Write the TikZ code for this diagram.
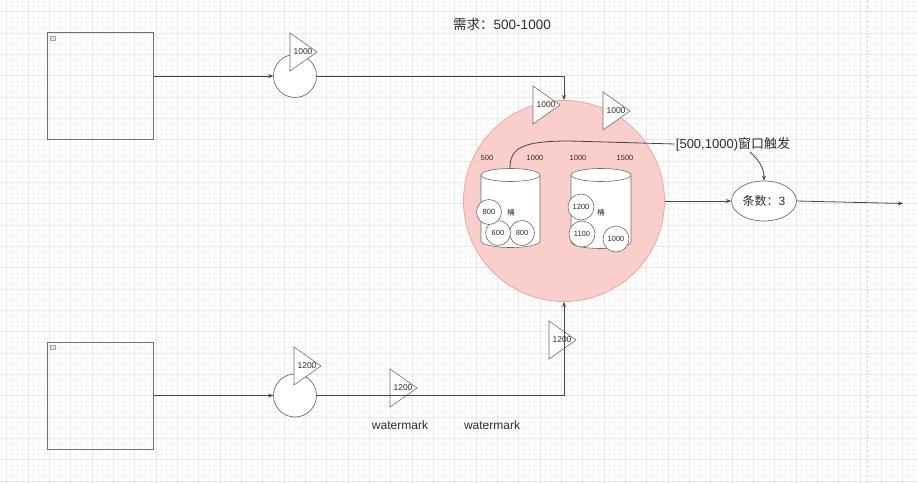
\documentclass[tikz,border=0pt]{standalone}
\usepackage{fontspec}
\setmainfont{Liberation Sans}
\newfontfamily\cjk{Noto Sans CJK SC}
\usetikzlibrary{shapes.geometric,arrows.meta}
\definecolor{pinkfill}{RGB}{249,206,203}
\definecolor{pinkdraw}{RGB}{236,168,163}
\definecolor{lncol}{RGB}{70,70,70}
\definecolor{shcol}{RGB}{110,110,110}
\definecolor{txcol}{RGB}{45,45,45}
\definecolor{gridmaj}{RGB}{232,232,232}
\definecolor{gridmin}{RGB}{246,246,246}
\newcommand\mytri[4]{%
  \draw[tri] ({#2},{#3-19}) -- ({#2+27},{#3}) -- ({#2},{#3+19}) -- cycle;
  \node[trilab] (#1) at ({#2+13},{#3}) {#4};}
\begin{document}
\begin{tikzpicture}[x=1pt,y=-1pt,
  ln/.style={draw=lncol,line width=0.8pt},
  arr/.style={ln,-{Stealth[length=5pt,width=4pt]}},
  tri/.style={draw=shcol,fill=white,line width=0.6pt},
  trilab/.style={font=\fontsize{8.5}{9}\selectfont,text=txcol,inner sep=0pt},
  bigbox/.style={draw=shcol,line width=1pt,minimum width=106pt,minimum height=107pt,inner sep=0pt},
  icon/.style={draw=gray!70,fill=gray!25,line width=0.3pt,minimum width=5pt,minimum height=4pt,inner sep=0pt},
  wheel/.style={circle,draw=shcol,fill=white,line width=0.7pt,minimum size=43pt,inner sep=0pt},
  ball/.style={circle,draw=shcol,fill=white,line width=0.6pt,minimum size=25pt,inner sep=0pt,font=\fontsize{7.5}{8}\selectfont,text=txcol},
  cyl/.style={draw=shcol,fill=white,line width=0.6pt},
  small/.style={font=\fontsize{7.5}{8}\selectfont,text=txcol,inner sep=0pt},
  txt/.style={text=txcol,inner sep=1pt}]
\fill[white] (0,0) rectangle (918,484);
\useasboundingbox (0,0) rectangle (918,484);
% grid
\foreach \i in {-2,...,173} {
  \draw[gridmin,line width=0.5pt] ({6.7+5.333*\i},0) -- ({6.7+5.333*\i},484);}
\foreach \i in {-3,...,91} {
  \draw[gridmin,line width=0.5pt] (0,{11.7+5.333*\i}) -- (918,{11.7+5.333*\i});}
\foreach \i in {0,...,43} {
  \draw[gridmaj,line width=0.8pt] ({6.7+21.333*\i},0) -- ({6.7+21.333*\i},484);}
\foreach \i in {0,...,22} {
  \draw[gridmaj,line width=0.8pt] (0,{11.7+21.333*\i}) -- (918,{11.7+21.333*\i});}
\draw[gray!30,line width=1pt,dash pattern=on 3pt off 2pt] (867,0) -- (867,484);

% title
\node[txt,font=\fontsize{13.5}{15}\selectfont] (title) at (502,24) {{\cjk 需求：}500-1000};

% boxes
\node[bigbox] (b1) at (100,86.5) {};
\node[icon] (i1) at (52.5,38.5) {};
\node[bigbox] (b2) at (100,395.5) {};
\node[icon] (i2) at (52.5,347.5) {};

% big circle
\node[circle,draw=pinkdraw,fill=pinkfill,line width=0.8pt,minimum size=201pt,inner sep=0pt] (C) at (564,201) {};

% wheels
\node[wheel] (c1) at (295,76) {};
\node[wheel] (c2) at (295,395.5) {};

% triangles
\mytri{t1}{290}{52}{1000}
\mytri{t2}{533}{105}{1000}
\mytri{t3}{603}{111}{1000}
\mytri{t4}{294}{366}{1200}
\mytri{t5}{390}{388}{1200}
\mytri{t6}{549}{340}{1200}

% connectors
\draw[arr] (b1.east |- c1.west) -- (c1.west);
\draw[arr] (c1.east) -| (C.north);
\draw[arr] (b2.east |- c2.west) -- (c2.west);
\draw[arr] (c2.east) -| (C.south);

% window label and curve
\node[txt,font=\fontsize{13}{14}\selectfont] (L) at (733,144) {[500,1000){\cjk 窗口触发}};
\coordinate (bt) at (510,168);
\draw[ln] (bt) .. controls (510,147) and (524,141) .. (570,141) -- (L.west);

% buckets
\filldraw[cyl] (481,175) -- (481,241) arc[start angle=180,end angle=360,x radius=29.5pt,y radius=6.5pt] -- (540,175) arc[start angle=0,end angle=180,x radius=29.5pt,y radius=6.5pt] -- cycle;
\draw[cyl] (481,175) arc[start angle=180,end angle=360,x radius=29.5pt,y radius=6.5pt];
\filldraw[cyl] (571,175) -- (571,242) arc[start angle=180,end angle=360,x radius=30pt,y radius=6.5pt] -- (631,175) arc[start angle=0,end angle=180,x radius=30pt,y radius=6.5pt] -- cycle;
\draw[cyl] (571,175) arc[start angle=180,end angle=360,x radius=30pt,y radius=6.5pt];

\node[small] (k1) at (487,158) {500};
\node[small] (k2) at (535,158) {1000};
\node[small] (k3) at (578,158) {1000};
\node[small] (k4) at (625,158) {1500};

\node[small] (tb1) at (511,213) {\cjk 桶};
\node[small] (tb2) at (601,213) {\cjk 桶};

\node[ball] (a3) at (522,233) {800};
\node[ball] (a2) at (498,233) {600};
\node[ball] (a1) at (489,212) {800};
\node[ball,minimum size=26pt] (r1) at (581,207) {1200};
\node[ball,minimum size=26pt] (r2) at (582,234) {1100};
\node[ball,minimum size=26pt] (r3) at (616,239) {1000};

% count ellipse
\node[ellipse,draw=shcol,fill=white,line width=0.7pt,minimum width=65pt,minimum height=40pt,inner sep=0pt,font=\fontsize{12}{13}\selectfont,text=txcol] (E) at (764,201) {{\cjk 条数：}3};
\draw[arr] (C.east) -- (E.west);
\coordinate (out) at (903,203.5);
\draw[arr] (E.east) -- (out);
\draw[arr] ([xshift=17pt]L.south) .. controls (759,160) and (764,168) .. (E.north);

% watermark labels
\node[txt,font=\fontsize{12}{13}\selectfont] (w1) at (400,425) {watermark};
\node[txt,font=\fontsize{12}{13}\selectfont] (w2) at (492,425) {watermark};
\end{tikzpicture}
\end{document}
